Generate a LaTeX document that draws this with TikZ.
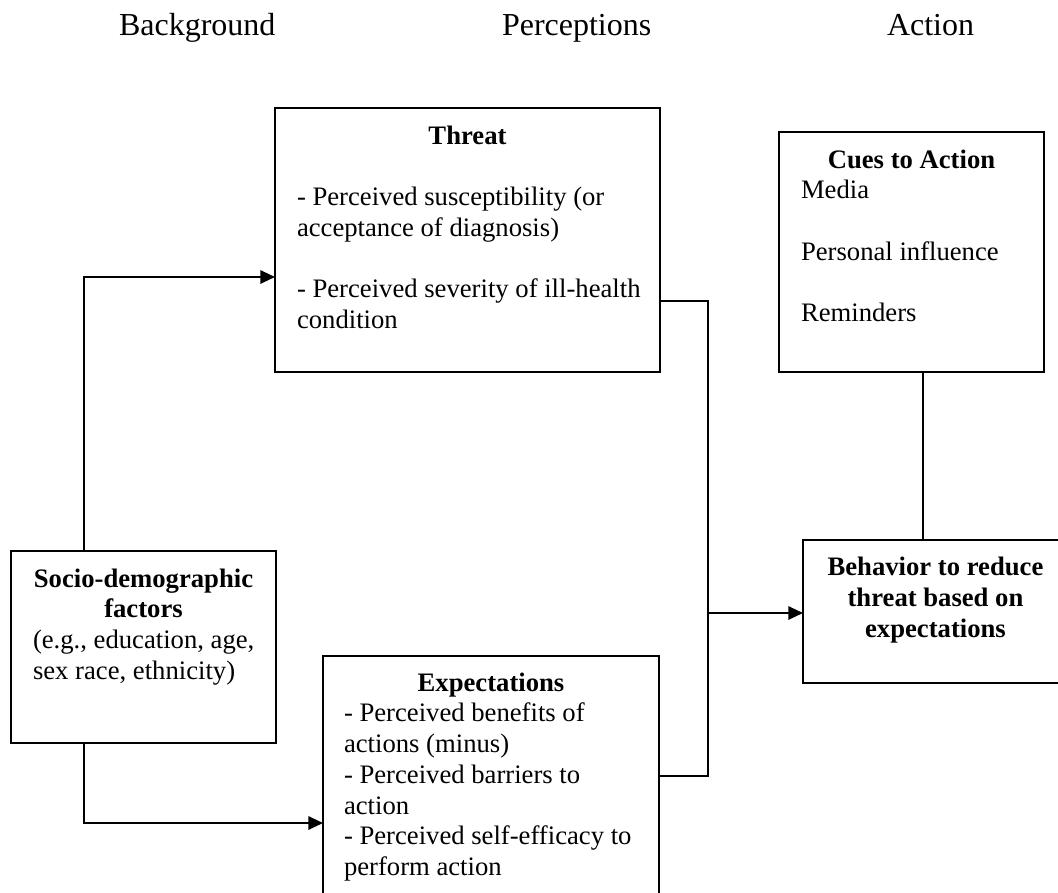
\documentclass[tikz,border=0pt]{standalone}
\usepackage{fontspec}
\setmainfont{Liberation Serif}
\usetikzlibrary{arrows.meta}

\begin{document}
\begin{tikzpicture}[x=0.75pt,y=-0.75pt,line width=1.5pt,>={Triangle[length=11pt,width=10pt]}]
  \tikzstyle{box}=[draw,rectangle,anchor=north west,inner sep=0pt,outer sep=0pt]
  \tikzstyle{txt}=[anchor=base west,inner sep=0pt,font=\fontsize{20}{23}\selectfont]
  \tikzstyle{ttl}=[anchor=base,inner sep=0pt,font=\fontsize{20}{23}\selectfont\bfseries]
  \tikzstyle{hdr}=[anchor=base west,inner sep=0pt,font=\fontsize{24}{28}\selectfont]
  \clip (0,0) rectangle (1058,893);
  % column headings
  \foreach \name/\x in {Background/118, Perceptions/501, Action/886}
    \node[hdr] (\name) at (\x,35) {\name};
  % boxes
  \node[box,minimum width=288.75pt,minimum height=198pt] (threat) at (275,108) {};
  \node[box,minimum width=198.75pt,minimum height=180pt] (cues) at (779,132) {};
  \node[box,minimum width=198.75pt,minimum height=144pt] (socio) at (11,551) {};
  \node[box,minimum width=252pt,minimum height=195pt] (expect) at (323,656) {};
  \node[box,minimum width=198.75pt,minimum height=107.25pt] (behav) at (803,540) {};
  % box texts
  \node[ttl] (threat-t) at (467.5,144) {Threat};
  \foreach \t/\y [count=\i] in {- Perceived susceptibility (or/205, acceptance of diagnosis)/236,
      - Perceived severity of ill-health/297.5, condition/328}
    \node[txt] (threat-\i) at (296,\y) {\t};
  \node[ttl] (cues-t) at (911.5,168) {Cues to Action};
  \foreach \t/\y [count=\i] in {Media/198.5, Personal influence/260, Reminders/321.5}
    \node[txt] (cues-\i) at (800,\y) {\t};
  \node[ttl] (socio-t1) at (143.5,587) {Socio-demographic};
  \node[ttl] (socio-t2) at (143.5,617.75) {factors};
  \foreach \t/\y [count=\i] in {{(e.g., education, age,}/648.5, {sex race, ethnicity)}/679.25}
    \node[txt] (socio-\i) at (32,\y) {\t};
  \node[ttl] (expect-t) at (491,691) {Expectations};
  \foreach \t/\y [count=\i] in {- Perceived benefits of/721.75, actions (minus)/752.5,
      - Perceived barriers to/783.25, action/814, - Perceived self-efficacy to/844.75, perform action/875.5}
    \node[txt] (expect-\i) at (343,\y) {\t};
  \foreach \t/\y [count=\i] in {Behavior to reduce/575, threat based on/606, expectations/637}
    \node[ttl] (behav-\i) at (935.5,\y) {\t};
  % connectors
  \coordinate (up) at (84,277);
  \coordinate (down) at (84,823);
  \coordinate (t-out) at (708,301);
  \coordinate (e-out) at (708,776);
  \coordinate (join) at (708,613);
  \coordinate (cue-link) at (923,540);
  \draw[->] (socio.north -| up) -- (up) -- (threat.west |- up);
  \draw[->] (socio.south -| down) -- (down) -- (expect.west |- down);
  \draw (threat.east |- t-out) -- (t-out) -- (e-out) -- (expect.east |- e-out);
  \draw[->] (join) -- (behav.west |- join);
  \draw (cues.south -| cue-link) -- (behav.north -| cue-link);
\end{tikzpicture}
\end{document}
